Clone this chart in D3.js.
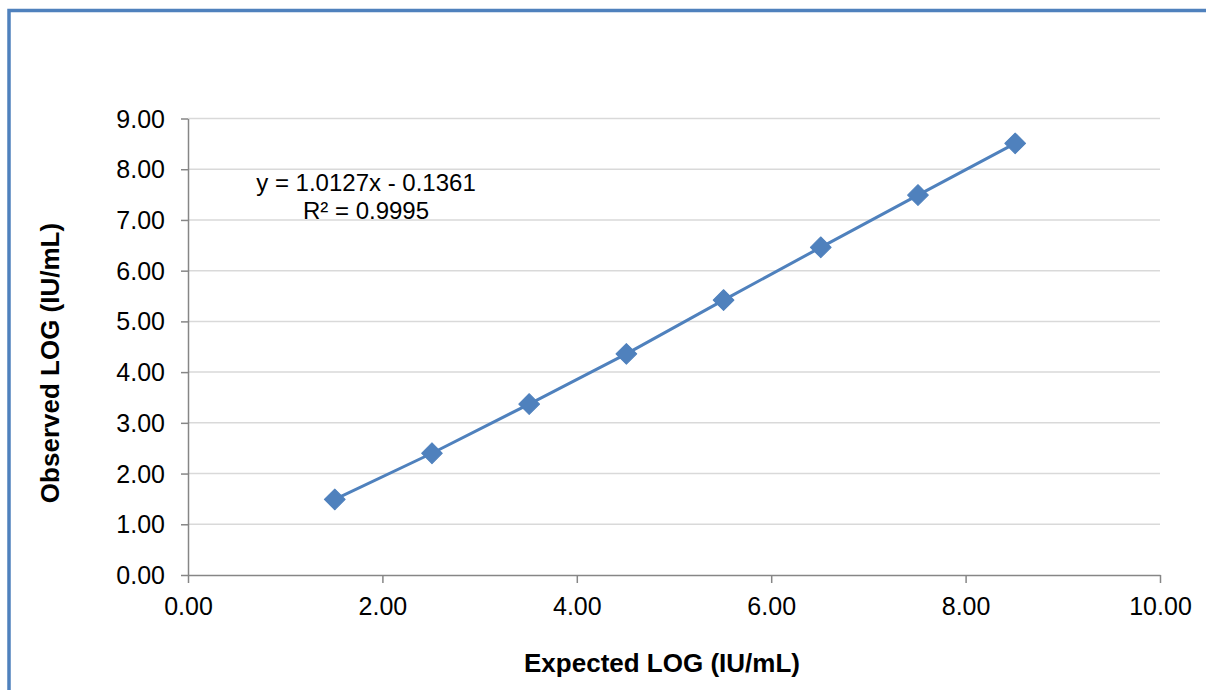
<!DOCTYPE html>
<html>
<head>
<meta charset="utf-8">
<script src="https://cdn.jsdelivr.net/npm/d3@7"></script>
<style>
  body { margin: 0; background: #fff; }
  text { font-family: "Liberation Sans", Arial, sans-serif; fill: #000; }
  .grid line { stroke: #d9d9d9; stroke-width: 1.5; }
  .axis path, .axis line { stroke: #868686; stroke-width: 1.5; }
  .axis text { font-size: 25px; }
  .aTitle { font-size: 26px; font-weight: bold; }
</style>
</head>
<body>
<div id="chart"></div>
<script>
// Data
const expected = [1.51, 2.51, 3.51, 4.51, 5.51, 6.51, 7.51, 8.51];
const observed = [1.49, 2.40, 3.37, 4.36, 5.42, 6.46, 7.49, 8.51];
const xTicks = [0, 2, 4, 6, 8, 10];
const yTicks = [0, 1, 2, 3, 4, 5, 6, 7, 8, 9];
const equationLines = ["y = 1.0127x - 0.1361", "R\u00b2 = 0.9995"];

// Chart Params
const svgWidth = 1206;
const svgHeight = 690;
const margin = { top: 118.5, right: 46, bottom: 115, left: 188 };
const width = svgWidth - margin.left - margin.right;
const height = svgHeight - margin.top - margin.bottom;
const blue = "#4f81bd";

const svg = d3.select("#chart")
  .append("svg")
  .attr("width", svgWidth)
  .attr("height", svgHeight);

svg.append("rect")
  .attr("width", svgWidth)
  .attr("height", svgHeight)
  .attr("fill", "#fff");

// blue frame (left and top edges only are visible)
svg.append("path")
  .attr("d", `M9,${svgHeight} L9,10.5 L${svgWidth},10.5`)
  .attr("fill", "none")
  .attr("stroke", blue)
  .attr("stroke-width", 3.5);

const chartGroup = svg.append("g")
  .attr("transform", `translate(${margin.left}, ${margin.top})`);

// scales
const xScale = d3.scaleLinear().domain([0, 10]).range([0, width]);
const yScale = d3.scaleLinear().domain([0, 9]).range([height, 0]);

// horizontal gridlines
chartGroup.append("g")
  .attr("class", "grid")
  .selectAll("line")
  .data(yTicks.filter(d => d > 0))
  .enter()
  .append("line")
  .attr("x1", 0)
  .attr("x2", width)
  .attr("y1", d => yScale(d))
  .attr("y2", d => yScale(d));

// x axis
const xAxis = chartGroup.append("g")
  .attr("class", "axis")
  .attr("transform", `translate(0, ${height})`)
  .call(d3.axisBottom(xScale).tickValues(xTicks).tickFormat(d3.format(".2f")).tickSize(8).tickSizeOuter(0));
xAxis.selectAll("text").attr("y", 40).attr("dy", null);

// y axis
const yAxis = chartGroup.append("g")
  .attr("class", "axis")
  .call(d3.axisLeft(yScale).tickValues(yTicks).tickFormat(d3.format(".2f")).tickSize(7).tickSizeOuter(0));
yAxis.selectAll("text").attr("x", -23).attr("dy", "0.34em");

// series line
const line = d3.line()
  .x((d, i) => xScale(expected[i]))
  .y(d => yScale(d));

chartGroup.append("path")
  .datum(observed)
  .attr("d", line)
  .attr("fill", "none")
  .attr("stroke", blue)
  .attr("stroke-width", 3);

// diamond markers
chartGroup.selectAll(".marker")
  .data(observed)
  .enter()
  .append("path")
  .attr("class", "marker")
  .attr("d", d3.symbol(d3.symbolSquare, 215))
  .attr("transform", (d, i) => `translate(${xScale(expected[i])}, ${yScale(d)}) rotate(45)`)
  .attr("fill", blue)
  .attr("stroke", blue)
  .attr("stroke-width", 1)
  .attr("stroke-linejoin", "round");

// trendline equation
svg.append("g")
  .selectAll("text")
  .data(equationLines)
  .enter()
  .append("text")
  .attr("x", 366)
  .attr("y", (d, i) => 191 + i * 28)
  .attr("text-anchor", "middle")
  .attr("font-size", "24px")
  .text(d => d);

// axis titles
svg.append("text")
  .attr("class", "aTitle")
  .attr("x", 662)
  .attr("y", 672)
  .attr("text-anchor", "middle")
  .text("Expected LOG (IU/mL)");

svg.append("text")
  .attr("class", "aTitle")
  .attr("transform", "translate(59, 363) rotate(-90)")
  .attr("text-anchor", "middle")
  .text("Observed LOG (IU/mL)");
</script>
</body>
</html>
